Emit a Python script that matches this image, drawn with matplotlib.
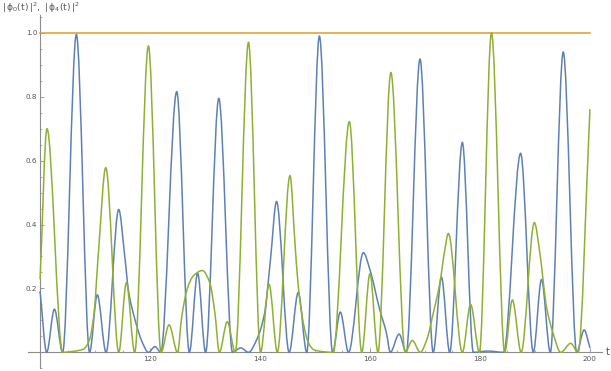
import numpy as np
import matplotlib
matplotlib.use("Agg")
import matplotlib.pyplot as plt
from matplotlib.path import Path
from matplotlib.patches import PathPatch

# values: peaks, zeros and a few flank points
blue_t = [100.0, 101.2, 102.6, 104.1, 106.6, 109.0, 110.4, 112.0, 114.3, 115.4,
          116.1, 117.3, 118.5, 119.7, 120.9, 121.95, 124.85, 127.15, 128.65, 130.1,
          132.5, 135.0, 136.5, 137.9, 139.4, 140.8, 141.9, 143.0, 145.3, 146.95,
          148.5, 150.8, 153.2, 154.6, 156.1, 158.8, 160.0, 161.8, 163.0, 163.7,
          165.3, 166.6, 169.1, 171.5, 173.0, 174.5, 176.8, 178.8, 181.5, 184.3,
          187.4, 189.7, 191.2, 192.8, 195.15, 197.6, 198.95, 200.0]
blue_v = [0.19, 0.0, 0.135, 0.0, 0.995, 0.0, 0.18, 0.0, 0.447, 0.30,
          0.19, 0.10, 0.035, 0.0, 0.018, 0.0, 0.816, 0.0, 0.248, 0.0,
          0.795, 0.0, 0.014, 0.0, 0.04, 0.12, 0.29, 0.472, 0.0, 0.187,
          0.0, 0.99, 0.0, 0.126, 0.0, 0.312, 0.258, 0.132, 0.06, 0.0,
          0.057, 0.0, 0.918, 0.0, 0.235, 0.0, 0.657, 0.0, 0.004, 0.0,
          0.623, 0.0, 0.228, 0.0, 0.94, 0.0, 0.07, 0.015]

green_t = [100.0, 101.25, 104.1, 106.0, 107.9, 109.0, 109.8, 110.6, 111.95, 114.3,
           115.7, 117.2, 119.7, 122.0, 123.45, 125.0, 125.75, 126.7, 127.9, 129.5,
           130.9, 131.8, 132.6, 134.05, 135.5, 137.9, 140.1, 141.65, 143.15, 145.45,
           146.4, 147.0, 147.9, 148.8, 149.8, 151.5, 153.3, 156.25, 158.5, 160.0,
           161.45, 163.8, 166.4, 167.7, 169.15, 170.3, 171.5, 172.7, 173.6, 174.25,
           176.8, 178.3, 179.9, 182.1, 184.5, 185.9, 187.5, 189.9, 190.9, 192.1,
           193.3, 194.7, 196.5, 197.85, 200.0]
green_v = [0.23, 0.70, 0.0, 0.003, 0.01, 0.04, 0.12, 0.31, 0.578, 0.0,
           0.218, 0.0, 0.959, 0.0, 0.086, 0.0, 0.11, 0.195, 0.24, 0.256,
           0.216, 0.122, 0.0, 0.096, 0.0, 0.97, 0.0, 0.213, 0.0, 0.553,
           0.33, 0.2, 0.09, 0.03, 0.008, 0.002, 0.0, 0.722, 0.0, 0.246,
           0.0, 0.876, 0.0, 0.037, 0.0, 0.038, 0.122, 0.216, 0.32, 0.372,
           0.0, 0.15, 0.0, 1.0, 0.0, 0.164, 0.0, 0.406, 0.31, 0.143,
           0.06, 0.0, 0.028, 0.0, 0.76]

orange_t = [100.0, 200.0]
orange_v = [1.0, 1.0]

x_major = [120, 140, 160, 180, 200]
y_major = [0.2, 0.4, 0.6, 0.8, 1.0]

BLUE = "#5E81B5"
ORANGE = "#E19C24"
GREEN = "#8FB032"
AXC = "#8c8c8c"
TXT = "#555555"

plt.rcParams["mathtext.fontset"] = "dejavusans"


def smooth_curve(t, v):
    # cubic bezier through the knots, flat tangents at extrema (pchip-like)
    t = np.asarray(t, float)
    v = np.asarray(v, float)
    h = np.diff(t)
    d = np.diff(v) / h
    m = np.zeros(len(t))
    for i in range(1, len(t) - 1):
        if d[i - 1] * d[i] > 0:
            w1 = 2 * h[i] + h[i - 1]
            w2 = h[i] + 2 * h[i - 1]
            m[i] = (w1 + w2) / (w1 / d[i - 1] + w2 / d[i])
    m[0] = d[0]
    m[-1] = d[-1]
    verts = [(t[0], v[0])]
    codes = [Path.MOVETO]
    for i in range(len(t) - 1):
        verts.append((t[i] + h[i] / 3, v[i] + m[i] * h[i] / 3))
        verts.append((t[i + 1] - h[i] / 3, v[i + 1] - m[i + 1] * h[i] / 3))
        verts.append((t[i + 1], v[i + 1]))
        codes += [Path.CURVE4] * 3
    return Path(verts, codes)


fig = plt.figure(figsize=(6.11, 3.71), dpi=100)
ax = fig.add_axes([28 / 611, 2.7 / 371, 574 / 611, 353.3 / 371])
ax.set_xlim(97.8, 202.2)
ax.set_ylim(-0.05, 1.056)

ax.add_patch(PathPatch(smooth_curve(blue_t, blue_v), fill=False,
                       edgecolor=BLUE, lw=1.1, zorder=3, capstyle="round"))
ax.plot(orange_t, orange_v, color=ORANGE, lw=1.1, zorder=4)
ax.add_patch(PathPatch(smooth_curve(green_t, green_v), fill=False,
                       edgecolor=GREEN, lw=1.1, zorder=5, capstyle="round"))

for s in ["top", "right"]:
    ax.spines[s].set_visible(False)
ax.spines["left"].set_position(("data", 100))
ax.spines["bottom"].set_position(("data", 0))
for s in ["left", "bottom"]:
    ax.spines[s].set_color(AXC)
    ax.spines[s].set_linewidth(0.8)

ax.set_xticks(x_major)
ax.set_xticks(np.arange(100, 201, 5), minor=True)
ax.set_yticks(y_major)
ax.set_yticks(np.arange(-0.05, 1.051, 0.05), minor=True)
ax.set_xticklabels([str(x) for x in x_major])
ax.set_yticklabels(["%.1f" % y for y in y_major])
ax.tick_params(which="major", direction="in", length=3, width=0.6, color=AXC,
               labelsize=5.2, labelcolor=TXT)
ax.tick_params(which="minor", direction="in", length=1.6, width=0.5, color=AXC)
ax.tick_params(axis="x", which="major", pad=3)
ax.tick_params(axis="y", which="major", pad=2)

ax.annotate("t", xy=(1, 0), xycoords=("axes fraction", "data"),
            xytext=(3, 0), textcoords="offset points", ha="left", va="center",
            fontsize=7, color=TXT)
fig.text(2 / 611, 1 - 8 / 371,
         r"$|\,\mathrm{\phi_0(t)}\,|^2,\ |\,\mathrm{\phi_4(t)}\,|^2$",
         ha="left", va="center", fontsize=6.6, color=TXT)

fig.savefig("out.png", dpi=100)
